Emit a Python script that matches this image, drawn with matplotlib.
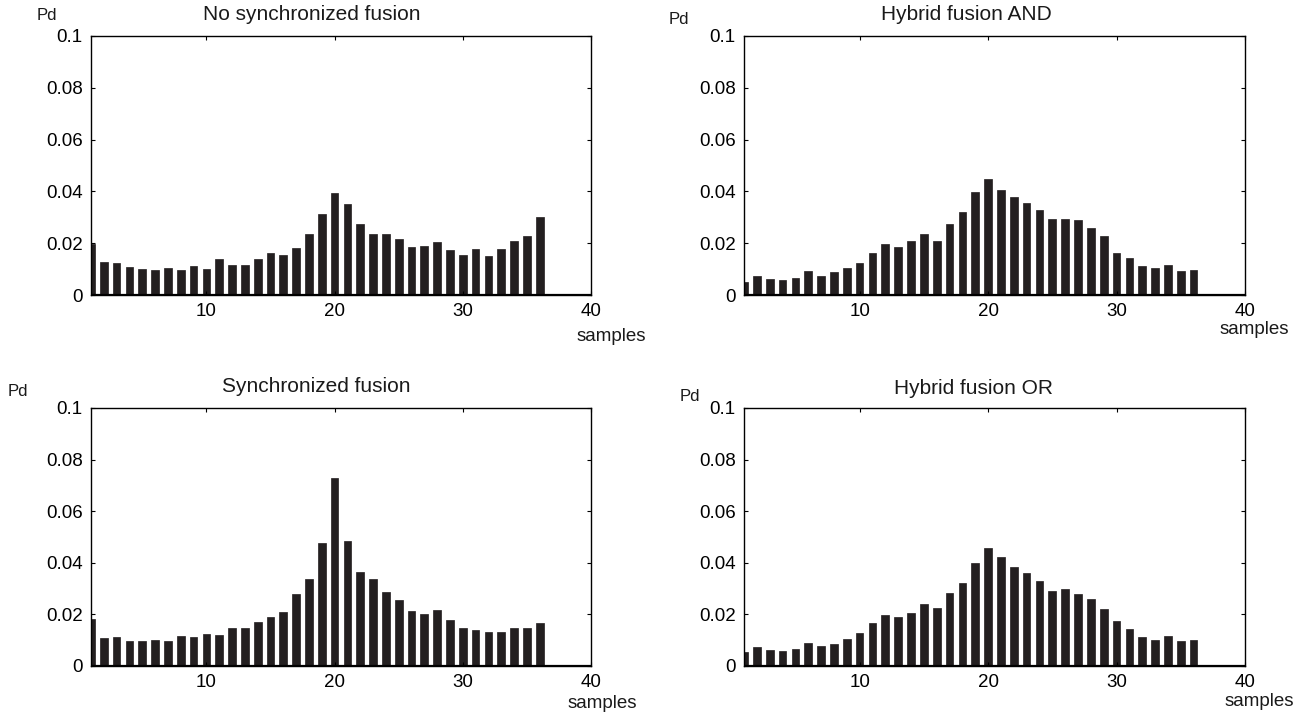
import matplotlib
matplotlib.use("Agg")
import matplotlib.pyplot as plt
import numpy as np

plt.rcParams['font.family'] = ['Liberation Sans', 'DejaVu Sans']

samples = list(range(1, 41))

no_sync = [0.0198, 0.0126, 0.0124, 0.0107, 0.0100, 0.0097, 0.0106, 0.0098, 0.0111, 0.0100,
           0.0140, 0.0115, 0.0117, 0.0139, 0.0164, 0.0153, 0.0183, 0.0236, 0.0314, 0.0393,
           0.0352, 0.0274, 0.0235, 0.0235, 0.0216, 0.0184, 0.0191, 0.0206, 0.0173, 0.0156,
           0.0177, 0.0149, 0.0178, 0.0210, 0.0229, 0.0303, 0.0, 0.0, 0.0, 0.0]

hybrid_and = [0.0050, 0.0072, 0.0061, 0.0057, 0.0067, 0.0091, 0.0075, 0.0088, 0.0103, 0.0125,
              0.0164, 0.0196, 0.0184, 0.0209, 0.0235, 0.0210, 0.0276, 0.0322, 0.0397, 0.0448,
              0.0407, 0.0379, 0.0357, 0.0329, 0.0293, 0.0295, 0.0291, 0.0260, 0.0228, 0.0164,
              0.0143, 0.0113, 0.0104, 0.0117, 0.0094, 0.0095, 0.0, 0.0, 0.0, 0.0]

sync = [0.0183, 0.0109, 0.0112, 0.0097, 0.0097, 0.0102, 0.0098, 0.0116, 0.0114, 0.0124,
        0.0120, 0.0146, 0.0146, 0.0172, 0.0191, 0.0208, 0.0280, 0.0336, 0.0475, 0.0730,
        0.0486, 0.0366, 0.0337, 0.0287, 0.0255, 0.0214, 0.0203, 0.0218, 0.0178, 0.0146,
        0.0140, 0.0133, 0.0130, 0.0146, 0.0147, 0.0168, 0.0, 0.0, 0.0, 0.0]

hybrid_or = [0.0054, 0.0074, 0.0062, 0.0059, 0.0067, 0.0090, 0.0076, 0.0087, 0.0106, 0.0127,
             0.0167, 0.0199, 0.0189, 0.0204, 0.0239, 0.0225, 0.0283, 0.0320, 0.0401, 0.0459,
             0.0422, 0.0385, 0.0359, 0.0331, 0.0291, 0.0298, 0.0280, 0.0258, 0.0220, 0.0174,
             0.0143, 0.0112, 0.0101, 0.0118, 0.0096, 0.0099, 0.0, 0.0, 0.0, 0.0]

titles = ["No synchronized fusion", "Hybrid fusion AND", "Synchronized fusion", "Hybrid fusion OR"]
series = [no_sync, hybrid_and, sync, hybrid_or]
yticks = [0, 0.02, 0.04, 0.06, 0.08, 0.1]
ytick_labels = ["0", "0.02", "0.04", "0.06", "0.08", "0.1"]
xticks = [10, 20, 30, 40]
xtick_labels = ["10", "20", "30", "40"]

W, H = 1314, 717
fig = plt.figure(figsize=(W / 100, H / 100), dpi=100)

# pixel boxes: left, top, right, bottom
boxes = [(91, 36, 591, 295), (744, 36, 1245, 295), (91, 408, 591, 666), (744, 408, 1245, 666)]
title_pos = [(312, 15), (966, 15), (316, 387), (973, 388)]
pd_pos = [(47, 15), (679, 20), (18, 391), (690, 397)]
samples_pos = [(611, 337), (1254, 330), (602, 703), (1259, 702)]

barcolor = "#231f20"
fs = 13.5

for i in range(4):
    l, t, r, b = boxes[i]
    ax = fig.add_axes([l / W, 1 - b / H, (r - l) / W, (b - t) / H])
    ax.bar(samples, series[i], width=0.6, color=barcolor, edgecolor=barcolor, linewidth=0.5)
    ax.axhline(0, color="black", linewidth=1.6)
    ax.set_xlim(1, 40)
    ax.set_ylim(0, 0.1)
    ax.set_yticks(yticks)
    ax.set_yticklabels(ytick_labels)
    ax.set_xticks(xticks)
    ax.set_xticklabels(xtick_labels)
    ax.tick_params(direction="in", length=3, width=0.8, top=True, right=True,
                   labelsize=fs, colors="black")
    ax.tick_params(axis="x", pad=6)
    ax.tick_params(axis="y", pad=6)
    for s in ax.spines.values():
        s.set_linewidth(1.0)
        s.set_color("black")
    tx, ty = title_pos[i]
    fig.text(tx / W, 1 - ty / H, titles[i], ha="center", va="center", fontsize=15, color="#1a1a1a")
    px, py = pd_pos[i]
    fig.text(px / W, 1 - py / H, "Pd", ha="center", va="center", fontsize=12, color="#1a1a1a")
    sx, sy = samples_pos[i]
    fig.text(sx / W, 1 - sy / H, "samples", ha="center", va="center", fontsize=fs, color="#1a1a1a")

fig.savefig("out.png", dpi=100)
